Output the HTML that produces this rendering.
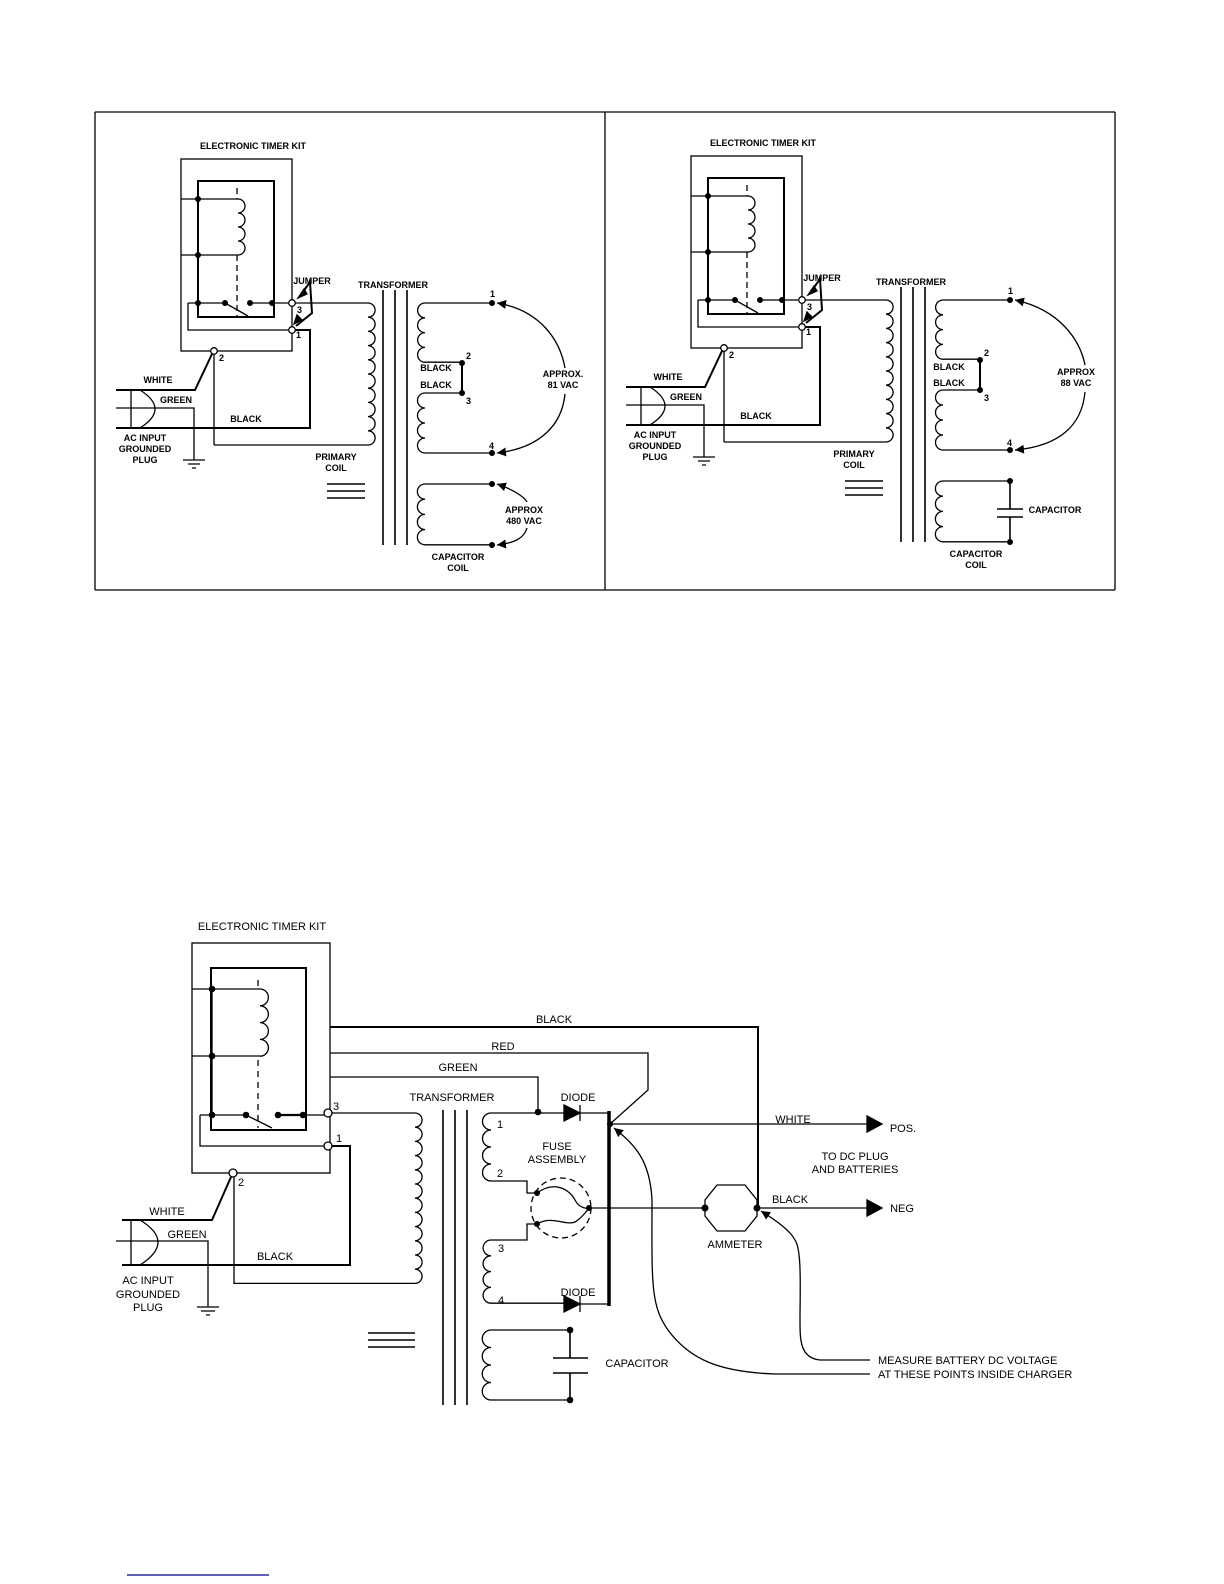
<!DOCTYPE html>
<html><head><meta charset="utf-8"><style>
html,body{margin:0;padding:0;background:#fff;overflow:hidden;width:1224px;height:1584px}
svg{display:block}
text{font-family:"Liberation Sans",sans-serif;font-weight:bold;fill:#000}
.s{font-size:9px}
.b{font-size:11px;font-weight:normal}
</style></head><body>
<svg width="1224" height="1584" viewBox="0 0 1224 1584" xmlns="http://www.w3.org/2000/svg" fill="none" stroke="#000" stroke-width="1.3">
<defs>
<marker id="ar" viewBox="0 0 10 10" refX="10" refY="5" markerWidth="9" markerHeight="9" orient="auto-start-reverse" markerUnits="userSpaceOnUse"><path d="M0,0 L10,5 L0,10z" fill="#000" stroke="none"/></marker>
<g id="T">
<rect x="181" y="159" width="111" height="192"/>
<path d="M198,181 H274 V317 H198 Z" stroke-width="2"/>
<path d="M181,199 H238 M181,255 H238"/>
<path d="M238,199 a7,7 0 0 1 0,14 a7,7 0 0 1 0,14 a7,7 0 0 1 0,14 a7,7 0 0 1 0,14"/>
<path d="M237,188 V199 M237,255 V318" stroke-dasharray="6,4"/>
<path d="M188,303 H225 L248,316 M250,303 H288"/>
<path d="M188,303 V330 H288"/>
<g fill="#000" stroke="none"><circle cx="198" cy="199" r="3"/><circle cx="198" cy="255" r="3"/><circle cx="198" cy="303" r="3"/><circle cx="225" cy="303" r="3"/><circle cx="250" cy="303" r="3"/><circle cx="272" cy="303" r="3"/></g>
<circle cx="292" cy="303" r="3.3" fill="#fff"/><circle cx="292" cy="330" r="3.3" fill="#fff"/><circle cx="214" cy="351" r="3.3" fill="#fff"/>
<path d="M295,330 H310 V428 H116" stroke-width="2"/>
<path d="M212,354 L195,390 H116" stroke-width="2"/>
<path d="M116,408 H194 V460"/>
<path d="M131,390 V428 M140,390 Q170,409 140,428"/>
<path d="M214,354 V445"/>
<path d="M183,460 H205 M188,464 H200 M192,468 H196"/>
<path d="M300,296 L310,282 L312,313 L296,326" stroke-width="2"/>
<path d="M298,298 l6,-9 l3,5 z M294,324 l3,-9 l5,5z" fill="#000"/>
<text class="s" x="253" y="149" text-anchor="middle" stroke="none">ELECTRONIC TIMER KIT</text>
<text class="s" x="312" y="284" text-anchor="middle" stroke="none">JUMPER</text>
<text class="s" x="297" y="313" stroke="none">3</text>
<text class="s" x="296" y="338" stroke="none">1</text>
<text class="s" x="219" y="361" stroke="none">2</text>
<text class="s" x="158" y="383" text-anchor="middle" stroke="none">WHITE</text>
<text class="s" x="176" y="403" text-anchor="middle" stroke="none">GREEN</text>
<text class="s" x="246" y="422" text-anchor="middle" stroke="none">BLACK</text>
<text class="s" x="145" y="441" text-anchor="middle" stroke="none">AC INPUT</text>
<text class="s" x="145" y="452" text-anchor="middle" stroke="none">GROUNDED</text>
<text class="s" x="145" y="463" text-anchor="middle" stroke="none">PLUG</text>
</g>
<g id="X">
<path d="M383,290 V545 M395,290 V545 M407,290 V545" stroke-width="1.6"/>
<path d="M368,303 a7.1,7.1 0 0 1 0,14.2 a7.1,7.1 0 0 1 0,14.2 a7.1,7.1 0 0 1 0,14.2 a7.1,7.1 0 0 1 0,14.2 a7.1,7.1 0 0 1 0,14.2 a7.1,7.1 0 0 1 0,14.2 a7.1,7.1 0 0 1 0,14.2 a7.1,7.1 0 0 1 0,14.2 a7.1,7.1 0 0 1 0,14.2 a7.1,7.1 0 0 1 0,14.2"/>
<path d="M492,303 H425 a7.4,7.4 0 0 0 0,14.8 a7.4,7.4 0 0 0 0,14.8 a7.4,7.4 0 0 0 0,14.8 a7.4,7.4 0 0 0 0,14.8 H462"/>
<path d="M462,393 H425 a7.5,7.5 0 0 0 0,15 a7.5,7.5 0 0 0 0,15 a7.5,7.5 0 0 0 0,15 a7.5,7.5 0 0 0 0,15 H492"/>
<path d="M492,484 H425 a7.6,7.6 0 0 0 0,15.2 a7.6,7.6 0 0 0 0,15.2 a7.6,7.6 0 0 0 0,15.2 a7.6,7.6 0 0 0 0,15.2 H492"/>
<path d="M462,363 V393" stroke-width="2"/>
<g fill="#000" stroke="none"><circle cx="492" cy="303" r="3"/><circle cx="462" cy="363" r="3"/><circle cx="462" cy="393" r="3"/><circle cx="492" cy="453" r="3"/><circle cx="492" cy="484" r="3"/><circle cx="492" cy="545" r="3"/></g>
<path d="M327,484 H365 M327,491 H365 M327,498 H365" stroke-width="1.6"/>
<text class="s" x="393" y="288" text-anchor="middle" stroke="none">TRANSFORMER</text>
<text class="s" x="490" y="297" stroke="none">1</text>
<text class="s" x="466" y="359" stroke="none">2</text>
<text class="s" x="466" y="404" stroke="none">3</text>
<text class="s" x="489" y="449" stroke="none">4</text>
<text class="s" x="336" y="460" text-anchor="middle" stroke="none">PRIMARY</text>
<text class="s" x="336" y="471" text-anchor="middle" stroke="none">COIL</text>
<text class="s" x="458" y="560" text-anchor="middle" stroke="none">CAPACITOR</text>
<text class="s" x="458" y="571" text-anchor="middle" stroke="none">COIL</text>
</g>
</defs>
<path d="M95,112 H1115 M95,590 H1115 M95,112 V590 M605,112 V590 M1115,112 V590" stroke-width="1.3"/>
<use href="#T"/><use href="#X"/>
<path d="M295,303 H368 M368,445 H214"/>
<text class="s" x="436" y="371" text-anchor="middle" stroke="none">BLACK</text>
<text class="s" x="436" y="388" text-anchor="middle" stroke="none">BLACK</text>
<path d="M497,303 C540,310 560,340 565,368" marker-start="url(#ar)"/>
<path d="M565,394 C562,425 540,448 497,453" marker-end="url(#ar)"/>
<text class="s" x="563" y="377" text-anchor="middle" stroke="none">APPROX.</text>
<text class="s" x="563" y="388" text-anchor="middle" stroke="none">81 VAC</text>
<path d="M497,484 C515,490 525,498 527,502" marker-start="url(#ar)"/>
<path d="M527,528 C524,538 515,543 497,545" marker-end="url(#ar)"/>
<text class="s" x="524" y="513" text-anchor="middle" stroke="none">APPROX</text>
<text class="s" x="524" y="524" text-anchor="middle" stroke="none">480 VAC</text>
<use href="#T" transform="translate(510,-3)"/><use href="#X" transform="translate(518,-3)"/>
<path d="M805,300 H886 M886,442 H724"/>
<text class="s" x="949" y="370" text-anchor="middle" stroke="none">BLACK</text>
<text class="s" x="949" y="386" text-anchor="middle" stroke="none">BLACK</text>
<path d="M1015,300 C1060,310 1080,340 1085,365" marker-start="url(#ar)"/>
<path d="M1085,392 C1082,425 1060,446 1015,450" marker-end="url(#ar)"/>
<text class="s" x="1076" y="375" text-anchor="middle" stroke="none">APPROX</text>
<text class="s" x="1076" y="386" text-anchor="middle" stroke="none">88 VAC</text>
<path d="M1010,481 V509 M997,509 H1023 M997,517 H1023 M1010,517 V542" stroke-width="1.6"/>
<text class="s" x="1055" y="513" text-anchor="middle" stroke="none">CAPACITOR</text>

<g>
<text class="b" x="262" y="930" text-anchor="middle" stroke="none">ELECTRONIC TIMER KIT</text>
<rect x="192" y="943" width="138" height="230"/>
<path d="M211,968 H306 V1130 H211 Z" stroke-width="2"/>
<path d="M192,989 H260 M192,1056 H260 M212,989 V1115"/>
<path d="M260,989 a8.4,8.4 0 0 1 0,16.8 a8.4,8.4 0 0 1 0,16.8 a8.4,8.4 0 0 1 0,16.8 a8.4,8.4 0 0 1 0,16.8"/>
<path d="M258,980 V989 M258,1060 V1128" stroke-dasharray="6,5"/>
<path d="M200,1115 H246 L272,1128 M278,1115 H325"/>
<path d="M278,1115 H303" stroke-width="2.2"/>
<path d="M200,1115 V1146 H325"/>
<g fill="#000" stroke="none"><circle cx="212" cy="989" r="3.3"/><circle cx="212" cy="1056" r="3.3"/><circle cx="212" cy="1115" r="3.3"/><circle cx="246" cy="1115" r="3.3"/><circle cx="278" cy="1115" r="3.3"/><circle cx="303" cy="1115" r="3.3"/></g>
<path d="M330,1027 H758 V1207" stroke-width="2"/>
<path d="M330,1053 H648 V1090 L610,1124"/>
<path d="M330,1077 H538 V1112"/>
<circle cx="328" cy="1113" r="4" fill="#fff"/><circle cx="328" cy="1146" r="4" fill="#fff"/><circle cx="233" cy="1173" r="4" fill="#fff"/>
<path d="M332,1113 H415"/>
<path d="M415,1113 a7.1,7.1 0 0 1 0,14.2 a7.1,7.1 0 0 1 0,14.2 a7.1,7.1 0 0 1 0,14.2 a7.1,7.1 0 0 1 0,14.2 a7.1,7.1 0 0 1 0,14.2 a7.1,7.1 0 0 1 0,14.2 a7.1,7.1 0 0 1 0,14.2 a7.1,7.1 0 0 1 0,14.2 a7.1,7.1 0 0 1 0,14.2 a7.1,7.1 0 0 1 0,14.2 a7.1,7.1 0 0 1 0,14.2 a7.1,7.1 0 0 1 0,14.2 H234 V1177"/>
<path d="M332,1146 H350 V1265 H122" stroke-width="2"/>
<path d="M231,1177 L212,1220 H122" stroke-width="2"/>
<path d="M116,1241 H208 V1307"/>
<path d="M131,1220 V1265 M140,1220 Q176,1242 140,1265"/>
<path d="M197,1307 H219 M201,1311 H215 M206,1315 H210"/>
<path d="M368,1333 H415 M368,1340 H415 M368,1347 H415" stroke-width="1.6"/>
<path d="M443,1110 V1405 M455,1110 V1405 M467,1110 V1405" stroke-width="1.6"/>
<path d="M564,1113 H491 a8.5,8.5 0 0 0 0,17 a8.5,8.5 0 0 0 0,17 a8.5,8.5 0 0 0 0,17 a8.5,8.5 0 0 0 0,17 H527 V1193 H537"/>
<path d="M537,1224 H527 V1240 H491 a7.9,7.9 0 0 0 0,15.8 a7.9,7.9 0 0 0 0,15.8 a7.9,7.9 0 0 0 0,15.8 a7.9,7.9 0 0 0 0,15.8 H564"/>
<path d="M564,1105 L580,1113 L564,1121 Z M564,1296 L580,1304 L564,1312 Z" fill="#000"/>
<path d="M580,1105 V1121 M580,1296 V1312 M580,1113 H609 M580,1304 H609"/>
<path d="M609,1111 V1306" stroke-width="3.5"/>
<circle cx="561" cy="1208" r="30" stroke-dasharray="6,4"/>
<path d="M537,1193 C555,1180 570,1190 575,1200 C580,1210 589,1208 589,1208 M537,1224 C552,1215 565,1226 575,1222 C582,1218 589,1208 589,1208"/>
<g fill="#000" stroke="none"><circle cx="538" cy="1112" r="3.3"/><circle cx="537" cy="1193" r="3"/><circle cx="537" cy="1224" r="3"/><circle cx="589" cy="1208" r="3"/><circle cx="610" cy="1124" r="3"/><circle cx="705" cy="1208" r="3.5"/><circle cx="757" cy="1208" r="3.5"/><circle cx="570" cy="1330" r="3.3"/><circle cx="570" cy="1400" r="3.3"/></g>
<path d="M589,1208 H705 M757,1208 H867 M610,1124 H867"/>
<path d="M867,1116 L882,1124 L867,1132 Z M867,1200 L882,1208 L867,1216 Z" fill="#000"/>
<path d="M717,1185 L745,1185 L757,1200 L757,1216 L745,1231 L717,1231 L705,1216 L705,1200 Z"/>
<path d="M570,1330 H491 a8.75,8.75 0 0 0 0,17.5 a8.75,8.75 0 0 0 0,17.5 a8.75,8.75 0 0 0 0,17.5 a8.75,8.75 0 0 0 0,17.5 H570"/>
<path d="M570,1330 V1358 M553,1358 H588 M553,1373 H588 M570,1373 V1400" stroke-width="1.6"/>
<path d="M870,1374 H775 C720,1372 690,1360 668,1330 C650,1305 652,1280 652,1200 C650,1160 635,1145 614,1128" marker-end="url(#ar)"/>
<path d="M870,1360 H820 C800,1358 800,1340 800,1320 C800,1290 802,1250 795,1240 C790,1230 775,1220 761,1211" marker-end="url(#ar)"/>
<g stroke="none">
<text class="b" x="554" y="1023" text-anchor="middle">BLACK</text>
<text class="b" x="503" y="1050" text-anchor="middle">RED</text>
<text class="b" x="458" y="1071" text-anchor="middle">GREEN</text>
<text class="b" x="452" y="1101" text-anchor="middle">TRANSFORMER</text>
<text class="b" x="578" y="1101" text-anchor="middle">DIODE</text>
<text class="b" x="578" y="1296" text-anchor="middle">DIODE</text>
<text class="b" x="333" y="1110">3</text>
<text class="b" x="336" y="1142">1</text>
<text class="b" x="238" y="1186">2</text>
<text class="b" x="497" y="1128">1</text>
<text class="b" x="497" y="1177">2</text>
<text class="b" x="498" y="1252">3</text>
<text class="b" x="498" y="1304">4</text>
<text class="b" x="557" y="1150" text-anchor="middle">FUSE</text>
<text class="b" x="557" y="1163" text-anchor="middle">ASSEMBLY</text>
<text class="b" x="167" y="1215" text-anchor="middle">WHITE</text>
<text class="b" x="187" y="1238" text-anchor="middle">GREEN</text>
<text class="b" x="275" y="1260" text-anchor="middle">BLACK</text>
<text class="b" x="148" y="1284" text-anchor="middle">AC INPUT</text>
<text class="b" x="148" y="1298" text-anchor="middle">GROUNDED</text>
<text class="b" x="148" y="1311" text-anchor="middle">PLUG</text>
<text class="b" x="793" y="1123" text-anchor="middle">WHITE</text>
<text class="b" x="903" y="1132" text-anchor="middle">POS.</text>
<text class="b" x="855" y="1160" text-anchor="middle">TO DC PLUG</text>
<text class="b" x="855" y="1173" text-anchor="middle">AND BATTERIES</text>
<text class="b" x="790" y="1203" text-anchor="middle">BLACK</text>
<text class="b" x="902" y="1212" text-anchor="middle">NEG</text>
<text class="b" x="735" y="1248" text-anchor="middle">AMMETER</text>
<text class="b" x="637" y="1367" text-anchor="middle">CAPACITOR</text>
<text class="b" x="878" y="1364">MEASURE BATTERY DC VOLTAGE</text>
<text class="b" x="878" y="1378">AT THESE POINTS INSIDE CHARGER</text>
</g>
</g>
<path d="M127,1575 H269" stroke="#00008b" stroke-width="1.2"/>
</svg>
</body></html>
